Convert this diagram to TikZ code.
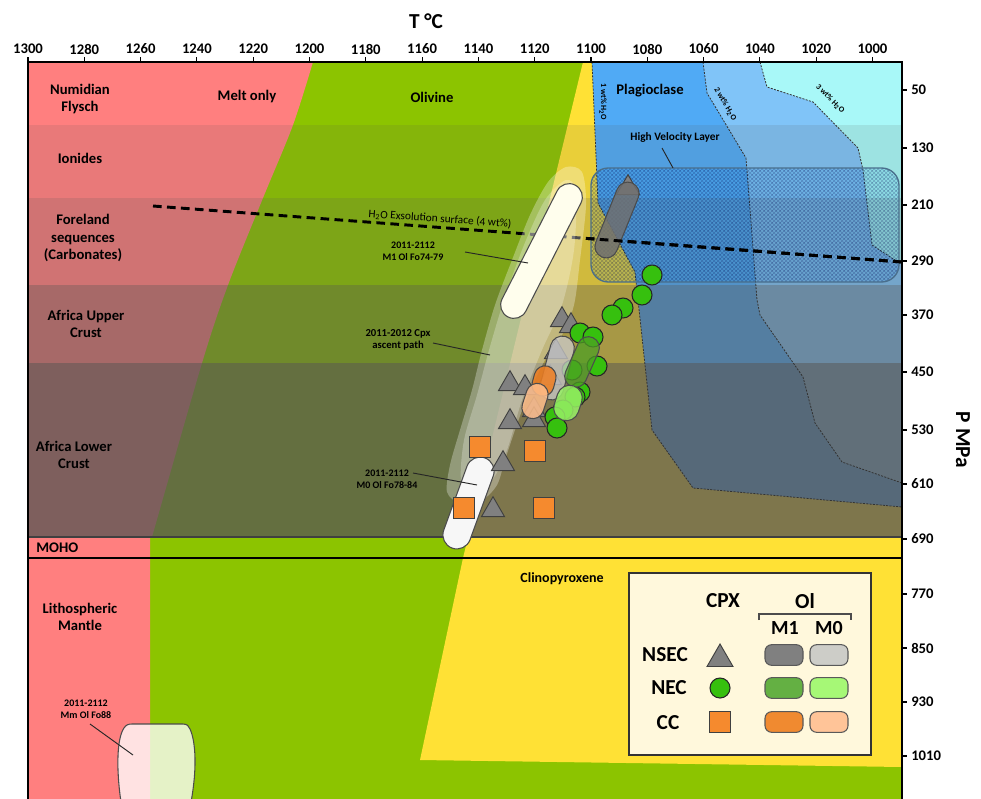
\documentclass[tikz,border=0pt]{standalone}
\usepackage{fontspec}
\setmainfont{Carlito}
\usetikzlibrary{shapes.misc,shapes.geometric,patterns}
\definecolor{cpink}{HTML}{FF7F7F}
\definecolor{cgreen}{HTML}{8CC400}
\definecolor{cyellow}{HTML}{FFE135}
\definecolor{cblueA}{HTML}{50AAF5}
\definecolor{cblueB}{HTML}{80C4F8}
\definecolor{ccyan}{HTML}{A8F8F8}
\definecolor{cshade}{HTML}{585654}
\definecolor{ctri}{HTML}{808080}
\definecolor{ccirc}{HTML}{36C00E}
\definecolor{csq}{HTML}{F58A2E}
\definecolor{ccream}{HTML}{FFF8DC}
\definecolor{gM1}{HTML}{707070}
\definecolor{gM0}{HTML}{CCCCCC}
\definecolor{nM1}{HTML}{4EA024}
\definecolor{nM0}{HTML}{98F066}
\definecolor{oM1}{HTML}{F07E20}
\definecolor{oM0}{HTML}{FFBE8C}
\definecolor{lgM1}{HTML}{808080}
\definecolor{lgM0}{HTML}{CDCDC8}
\definecolor{lnM1}{HTML}{64B043}
\definecolor{lnM0}{HTML}{A6F876}
\definecolor{loM1}{HTML}{F08A30}
\definecolor{loM0}{HTML}{FFC498}
\definecolor{hvledge}{HTML}{4A6F8C}
\begin{document}
\begin{tikzpicture}[x=0.75pt,y=-0.75pt,
  every node/.style={font=\bfseries},
  big/.style={font=\fontsize{11}{13}\selectfont\bfseries, align=center, inner sep=0pt},
  small/.style={font=\fontsize{7.5}{9}\selectfont\bfseries, align=center, inner sep=0pt},
  tinylab/.style={font=\fontsize{6}{7}\selectfont\bfseries, inner sep=0pt},
  ticklab/.style={font=\fontsize{11}{13}\selectfont\bfseries, inner sep=0pt},
  leglab/.style={font=\fontsize{16}{18}\selectfont\bfseries, inner sep=0pt},
  wtline/.style={draw=black!80, line width=0.6pt, dash pattern=on 1.5pt off 1pt},
  capsule/.style={rounded rectangle, draw=black!70, line width=0.8pt, inner sep=0pt},
  tri/.style={regular polygon, regular polygon sides=3, minimum size=20pt, inner sep=0pt, fill=ctri, draw=black!75, line width=0.7pt},
  circ/.style={circle, minimum size=15pt, inner sep=0pt, fill=ccirc, draw=black!85, line width=0.8pt},
  sq/.style={rectangle, minimum size=15.5pt, inner sep=0pt, fill=csq, draw=black!75, line width=0.7pt},
  legbox/.style={rectangle, rounded corners=5pt, minimum width=28.5pt, minimum height=15.5pt, inner sep=0pt, draw=black!65, line width=0.8pt},
  leader/.style={draw=black!85, line width=0.7pt},
  exsol/.style={line width=2.2pt, dash pattern=on 6.5pt off 4pt},
]
\useasboundingbox (0,0) rectangle (981,799);
\fill[white] (0,0) rectangle (981,799);

\begin{scope}
\clip (28,62) rectangle (902,799);
% base fields
\fill[cgreen] (28,62) rectangle (902,799);
\fill[cpink] (28,62) -- plot[smooth] coordinates {(313,62) (293,125) (263,198) (228,285) (202,363) (152,537)} -- (150,537) -- (150,799) -- (28,799) -- cycle;
\fill[cyellow] (583,62) -- (902,62) -- (902,767) -- (420,760) -- (463,558) -- cycle;
\fill[cblueA] (592,62) -- (598,203) -- (635,272) -- (652,430) -- (693,488) -- (902,507) -- (902,62) -- cycle;
\fill[cblueB] (703,62) -- (707,93) -- (746,158) -- (757,300) -- (760,315) -- (803,377) -- (815,423) -- (842,462) -- (902,483) -- (902,62) -- cycle;
\fill[ccyan] (760,62) -- (767,87) -- (813,102) -- (858,148) -- (863,170) -- (872,245) -- (898,262) -- (902,262) -- (902,62) -- cycle;
% depth bands
\fill[cshade, fill opacity=0.13] (28,125) rectangle (902,198);
\fill[cshade, fill opacity=0.28] (28,198) rectangle (902,285);
\fill[cshade, fill opacity=0.52] (28,285) rectangle (902,363);
\fill[cshade, fill opacity=0.77] (28,363) rectangle (902,537);
% water boundaries
\draw[wtline] (592,62) -- (598,203) -- (635,272) -- (652,430) -- (693,488) -- (902,507);
\draw[wtline] (703,62) -- (707,93) -- (746,158) -- (757,300) -- (760,315) -- (803,377) -- (815,423) -- (842,462) -- (902,483);
\draw[wtline] (760,62) -- (767,87) -- (813,102) -- (858,148) -- (863,170) -- (872,245) -- (898,262) -- (902,262);
% MOHO lines
\draw[black!75, line width=1pt] (28,537) -- (902,537);
\draw[black, line width=1.6pt] (28,558) -- (902,558);
% High velocity layer
\fill[blue!40!cyan, fill opacity=0.1, rounded corners=13pt] (591,168) rectangle (899,282);
\fill[pattern=crosshatch, pattern color=black!70!blue, opacity=0.26, rounded corners=13pt] (591,168) rectangle (899,282);
\draw[hvledge, line width=1pt, rounded corners=13pt] (591,168) rectangle (899,282);
% exsolution line
\coordinate (exA) at (153,206);
\coordinate (exB) at (902,262);
\draw[exsol] (exA) -- (exB);
% ascent path
\fill[white, fill opacity=0.3] plot[smooth cycle] coordinates {(566,167) (582,172) (586,205) (580,260) (574,305) (562,335) (545,360) (528,395) (515,430) (505,460) (497,485) (482,500) (460,503) (447,492) (450,465) (460,430) (472,390) (482,350) (495,305) (512,260) (530,215) (548,182)};
\fill[white, fill opacity=0.25] plot[smooth cycle] coordinates {(566,180) (576,192) (574,250) (562,305) (542,350) (522,400) (507,450) (492,480) (472,490) (461,480) (464,440) (477,395) (489,350) (504,300) (524,245) (545,200)};
% Mm capsule
\draw[black!70, line width=0.8pt, fill=white, fill opacity=0.78] (121,802) .. controls (116,768) and (117,738) .. (124,728) .. controls (126,725) and (128,724) .. (132,724) -- (183,724) .. controls (187,724) and (189,726) .. (190,729) .. controls (196,742) and (197,770) .. (191,802);
\end{scope}

% white olivine capsules
\node[capsule, fill=white!93!yellow, minimum width=111pt, minimum height=20pt, rotate=63] (olM1) at (541.5,251) {};
\node[capsule, fill=white!94!gray, minimum width=72pt, minimum height=21pt, rotate=70] (olM0) at (468.5,503) {};

% cpx markers
\node[tri] (t1) at (562,320) {};
\node[tri] (t2) at (571,326) {};
\node[tri] (t3) at (628,188) {};
\node[tri] (t4) at (556,352) {};
\node[tri] (t5) at (550,378) {};
\node[tri] (t6) at (510,384) {};
\node[tri] (t7) at (525,388) {};
\node[tri] (t8) at (534,410) {};
\node[tri] (t9) at (510,422) {};
\node[tri] (t10) at (534,420) {};
\node[tri] (t11) at (503,464) {};
\node[tri] (t12) at (493,510) {};
\node[circ] (c1) at (652,275) {};
\node[circ] (c2) at (642,295) {};
\node[circ] (c3) at (623,308) {};
\node[circ] (c4) at (612,315) {};
\node[circ] (c5) at (580,333) {};
\node[circ] (c6) at (593,337) {};
\node[circ] (c7) at (597,366) {};
\node[circ] (c8) at (572,370) {};
\node[circ] (c9) at (580,392) {};
\node[circ] (c10) at (575,397) {};
\node[circ] (c11) at (563,410) {};
\node[circ] (c12) at (555,417) {};
\node[circ] (c13) at (557,428) {};
\node[sq] (s1) at (480,447) {};
\node[sq] (s2) at (535,451) {};
\node[sq] (s3) at (464,508) {};
\node[sq] (s4) at (544,508) {};

% coloured olivine capsules
\node[capsule, fill=gM1, fill opacity=0.85, minimum width=60pt, minimum height=17pt, rotate=68] (nsM1) at (617,220) {};
\node[capsule, fill=gM0, fill opacity=0.75, minimum width=49pt, minimum height=18pt, rotate=75] (nsM0) at (557,368) {};
\node[capsule, fill=nM1, fill opacity=0.75, minimum width=40pt, minimum height=16.5pt, rotate=66] (neM1) at (582,362) {};
\node[capsule, fill=nM0, fill opacity=0.85, minimum width=27pt, minimum height=19pt, rotate=72] (neM0) at (568,403) {};
\node[capsule, fill=oM1, fill opacity=0.85, minimum width=23pt, minimum height=16.5pt, rotate=75] (ccM1) at (544,381) {};
\node[capsule, fill=oM0, fill opacity=0.85, minimum width=27pt, minimum height=16.5pt, rotate=72] (ccM0) at (535,401) {};

% exsolution line redrawn over capsule
\begin{scope}
\clip (588,150) rectangle (902,300);
\draw[exsol] (exA) -- (exB);
\end{scope}

% labels
\node[big] (lnum) at (80,99) {Numidian\\Flysch};
\node[big] (lion) at (80,158) {Ionides};
\node[big] (lfor) at (83,238) {Foreland\\sequences\\(Carbonates)};
\node[big] (lauc) at (86,324) {Africa Upper\\Crust};
\node[big] (lalc) at (74,455) {Africa Lower\\Crust};
\node[big, anchor=west] (lmoho) at (36,548) {MOHO};
\node[big] (llm) at (80,617) {Lithospheric\\Mantle};
\node[big] (lmelt) at (247,97) {Melt only};
\node[big] (loliv) at (432,97) {Olivine};
\node[big] (lplag) at (650,91) {Plagioclase};
\node[big, font=\fontsize{10.5}{12}\selectfont\bfseries] (lcpx) at (562,579) {Clinopyroxene};
\node[small, font=\fontsize{8.5}{10}\selectfont\bfseries] (lhvl) at (675,137) {High Velocity Layer};
\node[small, font=\fontsize{8.5}{10}\selectfont, rotate=-4] (lexs) at (440,219) {H\textsubscript{2}O Exsolution surface (4 wt\%)};
\node[tinylab, rotate=-90] (lw1) at (603,102) {1 wt\% H\textsubscript{2}O};
\node[tinylab, rotate=-60] (lw2) at (725,104) {2 wt\% H\textsubscript{2}O};
\node[tinylab, rotate=-45] (lw3) at (830,99) {3 wt\% H\textsubscript{2}O};
\node[small] (lM1) at (413,251) {2011-2112\\M1 Ol Fo74-79};
\node[small, font=\fontsize{8}{9.5}\selectfont\bfseries] (lasc) at (398,340) {2011-2012 Cpx\\ascent path};
\node[small] (lM0) at (387,479) {2011-2112\\M0 Ol Fo78-84};
\node[small] (lMm) at (86,709) {2011-2112\\Mm Ol Fo88};

\coordinate (hvlA) at (662,148);
\coordinate (hvlB) at (673,168);
\draw[leader] (hvlA) -- (hvlB);
\coordinate (m1A) at (465,252);
\coordinate (m1B) at (528,263);
\draw[leader] (m1A) -- (m1B);
\coordinate (ascA) at (433,343);
\coordinate (ascB) at (490,355);
\draw[leader] (ascA) -- (ascB);
\coordinate (m0A) at (413,473);
\coordinate (m0B) at (477,485);
\draw[leader] (m0A) -- (m0B);
\coordinate (mmA) at (90,724);
\coordinate (mmB) at (133,755);
\draw[leader] (mmA) -- (mmB);

% legend
\node[draw=black!80, line width=1.5pt, fill=ccream, minimum width=181.5pt, minimum height=137pt, inner sep=0pt] (legend) at (750,664) {};
\node[leglab] (lgcpx) at (723,601) {CPX};
\node[leglab] (lgol) at (805,601) {Ol};
\coordinate (brA) at (759,620);
\coordinate (brB) at (759,614);
\coordinate (brC) at (851,614);
\coordinate (brD) at (851,620);
\draw[black!70, line width=0.8pt] (brA) -- (brB) -- (brC) -- (brD);
\node[leglab, font=\fontsize{15}{17}\selectfont\bfseries] (lgm1) at (785,628) {M1};
\node[leglab, font=\fontsize{15}{17}\selectfont\bfseries] (lgm0) at (829,628) {M0};
\node[leglab] (lgns) at (665,655) {NSEC};
\node[leglab] (lgne) at (669,688) {NEC};
\node[leglab] (lgcc) at (668,723) {CC};
\node[tri, minimum size=22.5pt] (lgt) at (720,659) {};
\node[circ] (lgc) at (720,688) {};
\node[sq] (lgs) at (720,722) {};
\node[legbox, fill=lgM1] (lb1) at (784,655) {};
\node[legbox, fill=lgM0] (lb2) at (829,655) {};
\node[legbox, fill=lnM1] (lb3) at (784,688) {};
\node[legbox, fill=lnM0] (lb4) at (829,688) {};
\node[legbox, fill=loM1] (lb5) at (784,722) {};
\node[legbox, fill=loM0] (lb6) at (829,722) {};

% frame
\draw[black, line width=1.5pt] (28,799) -- (28,62) -- (902,62) -- (902,799);
% top axis
\foreach \T in {1300,1280,...,1000} {
  \draw[black, line width=0.8pt] ({28+(1300-\T)*2.815},62) -- ++(0,-5);
  \node[ticklab] (tx\T) at ({28+(1300-\T)*2.815},49) {\T};
}
\node[font=\fontsize{16}{18}\selectfont\bfseries] (taxis) at (426,21) {T °C};
% right axis
\foreach \p/\yy in {50/90,130/148,210/205,290/261,370/315,450/372,530/430,610/484,690/539,770/594,850/648,930/702,1010/756} {
  \draw[black, line width=0.8pt] (902,\yy) -- (907,\yy);
  \node[ticklab, anchor=west] (py\p) at (911,\yy) {\p};
}
\node[font=\fontsize{16}{18}\selectfont\bfseries, rotate=-90] (paxis) at (963,440) {P MPa};
\end{tikzpicture}
\end{document}
